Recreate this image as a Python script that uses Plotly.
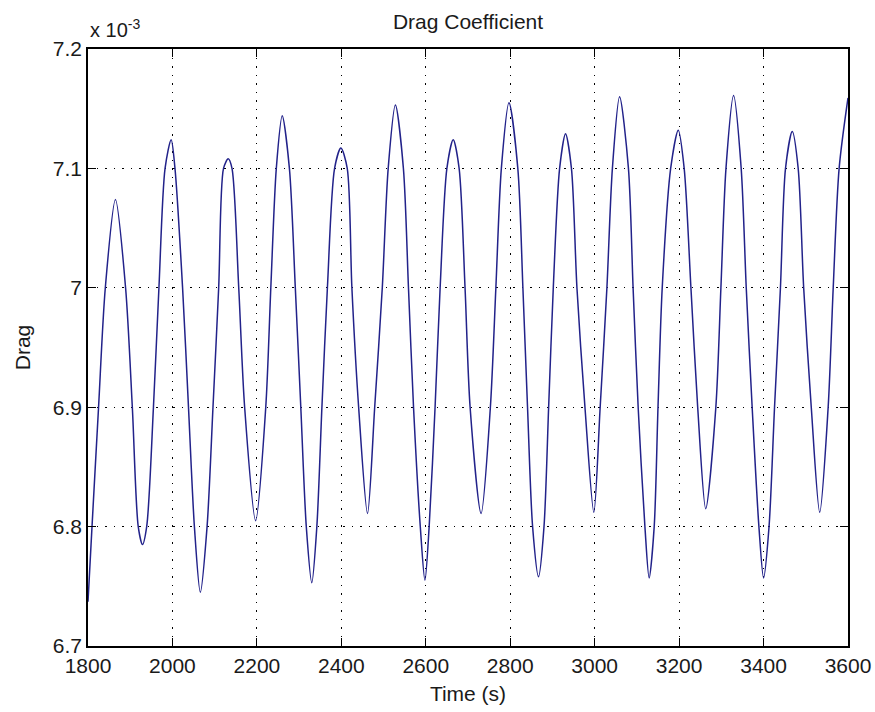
import plotly.graph_objects as go

# Time (s) and drag coefficient (x 10^-3)
time_s = [1800, 1809.5, 1825, 1841, 1865, 1889, 1905, 1919, 1929, 1939,
          1955, 1968, 1982.5, 1997, 2006, 2024, 2038, 2052, 2066, 2082,
          2096, 2109.5, 2121, 2132, 2141, 2157, 2171, 2197, 2221, 2233,
          2246, 2260, 2277, 2291, 2304, 2317, 2330, 2342, 2354, 2367,
          2384, 2399, 2414, 2425, 2441, 2462, 2479, 2497, 2511, 2528,
          2547, 2559, 2571, 2587, 2598, 2608, 2622, 2634, 2650, 2665,
          2679, 2693, 2705, 2731, 2753, 2766, 2779, 2797, 2818, 2830,
          2841, 2853, 2867, 2880, 2891, 2902, 2917, 2931, 2945, 2958,
          2977, 2998, 3013, 3029, 3042, 3059, 3080, 3091, 3103, 3119,
          3129, 3141, 3150, 3160, 3180, 3198, 3212, 3228, 3244, 3263,
          3287, 3299, 3311, 3329, 3347, 3359, 3373, 3389, 3400, 3413,
          3426, 3440, 3452, 3468, 3482, 3495, 3513, 3533, 3553, 3565,
          3579, 3600]
drag_e3 = [6.737, 6.8, 6.9, 7.0, 7.074, 7.0, 6.9, 6.8, 6.785, 6.8,
           6.9, 7.0, 7.1, 7.124, 7.1, 7.0, 6.9, 6.8, 6.745, 6.8,
           6.9, 7.0, 7.1, 7.108, 7.1, 7.0, 6.9, 6.805, 6.9, 7.0,
           7.1, 7.144, 7.1, 7.0, 6.9, 6.8, 6.753, 6.8, 6.9, 7.0,
           7.1, 7.117, 7.1, 7.0, 6.9, 6.811, 6.9, 7.0, 7.1, 7.153,
           7.1, 7.0, 6.9, 6.8, 6.755, 6.8, 6.9, 7.0, 7.1, 7.124,
           7.1, 7.0, 6.9, 6.811, 6.9, 7.0, 7.1, 7.155, 7.1, 7.0,
           6.9, 6.8, 6.758, 6.8, 6.9, 7.0, 7.1, 7.129, 7.1, 7.0,
           6.9, 6.812, 6.9, 7.0, 7.1, 7.160, 7.1, 7.0, 6.9, 6.8,
           6.757, 6.8, 6.9, 7.0, 7.1, 7.132, 7.1, 7.0, 6.9, 6.815,
           6.9, 7.0, 7.1, 7.161, 7.1, 7.0, 6.9, 6.8, 6.757, 6.8,
           6.9, 7.0, 7.1, 7.131, 7.1, 7.0, 6.9, 6.812, 6.9, 7.0,
           7.1, 7.159]

x_ticks = [1800, 2000, 2200, 2400, 2600, 2800, 3000, 3200, 3400, 3600]
y_ticks = [6.7, 6.8, 6.9, 7.0, 7.1, 7.2]
y_tick_labels = ["6.7", "6.8", "6.9", "7", "7.1", "7.2"]

FONT = "Liberation Sans, Arial, sans-serif"
TXT = "#1a1a1a"

fig = go.Figure()
fig.add_trace(go.Scatter(
    x=time_s, y=drag_e3, mode="lines",
    line=dict(color="#22228a", width=1.5, shape="spline", smoothing=0.8),
    showlegend=False, hoverinfo="x+y",
))

axis_common = dict(
    showline=True, linecolor="black", linewidth=1.5, mirror="ticks",
    ticks="inside", ticklen=8, tickwidth=1.3, tickcolor="black",
    showgrid=True, gridcolor="black", gridwidth=1, griddash="1.5px,7px",
    zeroline=False, automargin=False,
    tickfont=dict(family=FONT, size=21, color=TXT),
)

fig.update_layout(
    width=875, height=712,
    margin=dict(l=88, r=27, t=49, b=66),
    paper_bgcolor="white", plot_bgcolor="white",
    title=dict(text="Drag Coefficient", x=0.5, xref="paper", xanchor="center",
               y=1 - 22 / 712, yref="container", yanchor="middle",
               font=dict(family=FONT, size=21, color=TXT)),
    xaxis=dict(range=[1800, 3600], tickvals=x_ticks,
               title=dict(text="Time (s)", standoff=10,
                          font=dict(family=FONT, size=21, color=TXT)),
               **axis_common),
    yaxis=dict(range=[6.7, 7.2], tickvals=y_ticks, ticktext=y_tick_labels,
               title=dict(text="Drag", standoff=16,
                          font=dict(family=FONT, size=21, color=TXT)),
               **axis_common),
    annotations=[dict(text="x 10<sup>-3</sup>", xref="paper", yref="paper",
                      x=0, y=1, xanchor="left", yanchor="bottom", yshift=6,
                      showarrow=False,
                      font=dict(family=FONT, size=20, color=TXT))],
)

fig.write_html("out.html")
